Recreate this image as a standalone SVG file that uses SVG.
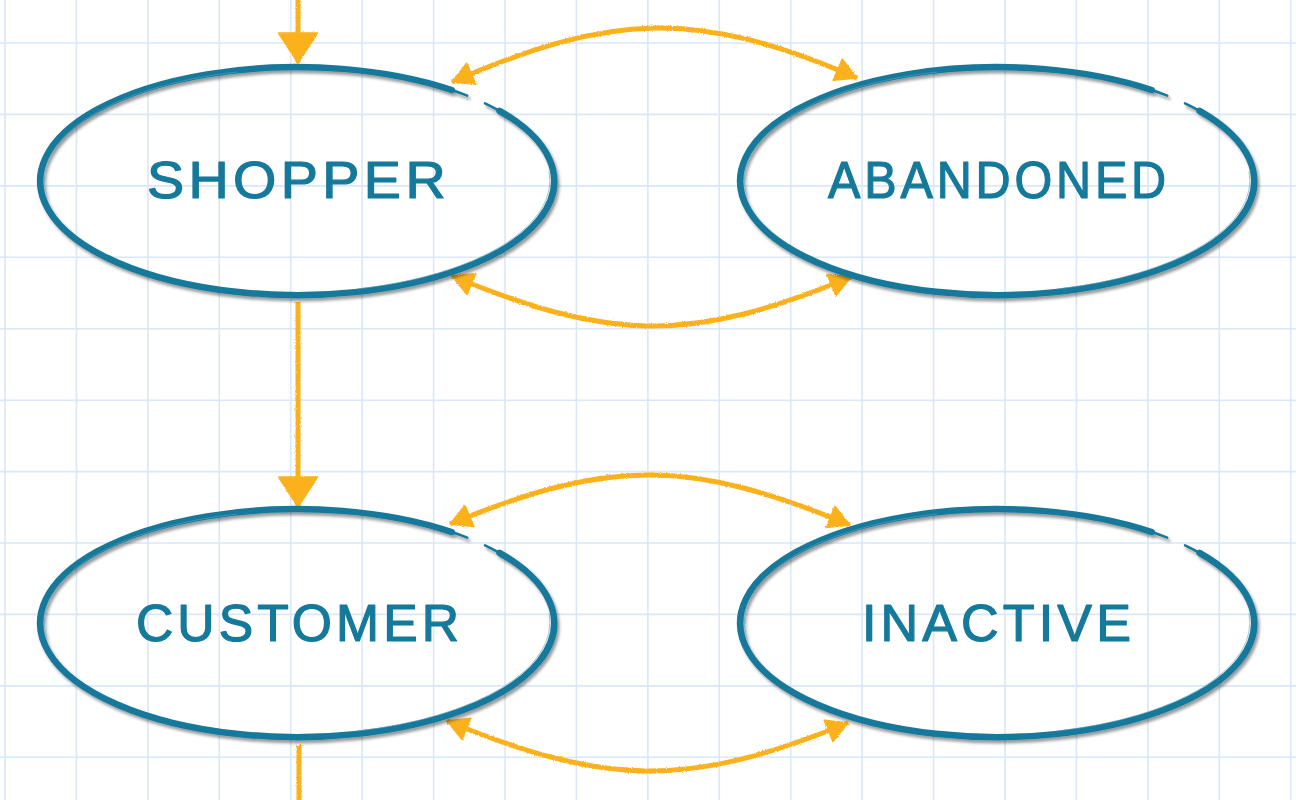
<svg xmlns="http://www.w3.org/2000/svg" width="1296" height="800" viewBox="0 0 1296 800">
  <defs>
    <style>
      .grid { stroke: #dae7f8; stroke-width: 1.6; fill: none; }
      .ring { fill: none; stroke: #15799b; stroke-width: 6.5; stroke-linecap: round; }
      .ringthin { fill: none; stroke: #15799b; stroke-width: 2.5; stroke-linecap: round; }
      .ringhi { fill: none; stroke: #5fa3bd; stroke-width: 1; opacity: 0.6; }
      .label { font-family: "Liberation Sans", Arial, sans-serif; font-size: 51px; letter-spacing: 4px; fill: #15799b; stroke: #15799b; stroke-width: 1.2; stroke-linejoin: round; text-anchor: middle; }
      .arrow { fill: none; stroke: #fbb11c; stroke-width: 5; stroke-linecap: butt; }
      .head { fill: #fbb11c; stroke: #fbb11c; stroke-width: 1.5; stroke-linejoin: round; }
    </style>
    <filter id="shadow" x="-10%" y="-10%" width="120%" height="130%">
      <feDropShadow dx="2" dy="3" stdDeviation="1.6" flood-color="#000" flood-opacity="0.4"/>
    </filter>
    <filter id="crayon" x="-5%" y="-5%" width="110%" height="110%">
      <feTurbulence type="fractalNoise" baseFrequency="0.9" numOctaves="2" seed="3" result="n"/>
      <feDisplacementMap in="SourceGraphic" in2="n" scale="2.5" xChannelSelector="R" yChannelSelector="G"/>
    </filter>
    <marker id="headS" viewBox="-24 -14 26 28" refX="0" refY="0" markerWidth="26" markerHeight="28" markerUnits="userSpaceOnUse" orient="auto-start-reverse">
      <path class="head" d="M0,0 L-21,-11.5 L-21,11.5 Z"/>
    </marker>
    <marker id="headL" viewBox="-32 -22 34 44" refX="0" refY="0" markerWidth="34" markerHeight="44" markerUnits="userSpaceOnUse" orient="auto-start-reverse">
      <path class="head" d="M0,0 L-30,-19.5 L-30,19.5 Z"/>
    </marker>
    <g id="ellipseShape">
      <path class="ring" d="M202.5,-70.2 A257,114 0 1 1 154.7,-91"/>
      <path class="ringthin" d="M188,-77.7 A257,114 0 0 1 202.5,-70.2"/>
      <path class="ringthin" d="M154.7,-91 A257,114 0 0 1 170.3,-85.4"/>
      <path class="ringhi" d="M252,-10 A255,112 0 0 1 60,108"/>
      <path class="ringhi" d="M-60,-109 A254,111 0 0 0 -250,15"/>
    </g>
  </defs>

  <rect x="0" y="0" width="1296" height="800" fill="#ffffff"/>

  <g id="grid">
    <path class="grid" d="M5,0V800 M76.4,0V800 M147.9,0V800 M219.3,0V800 M290.7,0V800 M362.1,0V800 M433.6,0V800 M505,0V800 M576.4,0V800 M647.9,0V800 M719.3,0V800 M790.7,0V800 M862.1,0V800 M933.6,0V800 M1005,0V800 M1076.4,0V800 M1147.9,0V800 M1219.3,0V800 M1290.7,0V800 M0,43H1296 M0,114.4H1296 M0,185.9H1296 M0,257.3H1296 M0,328.7H1296 M0,400.2H1296 M0,471.6H1296 M0,543H1296 M0,614.4H1296 M0,685.9H1296 M0,757.3H1296"/>
  </g>

  <g id="connectors" filter="url(#crayon)">
    <path class="arrow" d="M298,0 V63" marker-end="url(#headL)"/>
    <path class="arrow" d="M298,302 V507" marker-end="url(#headL)"/>
    <path class="arrow" d="M299,745 V800"/>
    <path class="arrow" d="M452,82 C612,12.7 697,8.7 857,78" marker-start="url(#headS)" marker-end="url(#headS)"/>
    <path class="arrow" d="M452,276 C612,342 691,343 851,277" marker-start="url(#headS)" marker-end="url(#headS)"/>
    <path class="arrow" d="M450,524 C610,458 690,459 850,525" marker-start="url(#headS)" marker-end="url(#headS)"/>
    <path class="arrow" d="M447,721 C607,786.3 688,788.3 848,723" marker-start="url(#headS)" marker-end="url(#headS)"/>
  </g>

  <g id="shopper">
    <g transform="translate(297,181)" filter="url(#shadow)"><use href="#ellipseShape"/></g>
    <text class="label" x="298.5" y="198" textLength="303" lengthAdjust="spacingAndGlyphs">SHOPPER</text>
  </g>

  <g id="abandoned">
    <g transform="translate(997,181)" filter="url(#shadow)"><use href="#ellipseShape"/></g>
    <text class="label" x="999" y="198" textLength="342" lengthAdjust="spacingAndGlyphs">ABANDONED</text>
  </g>

  <g id="customer">
    <g transform="translate(297,623)" filter="url(#shadow)"><use href="#ellipseShape"/></g>
    <text class="label" x="299.5" y="641" textLength="327" lengthAdjust="spacingAndGlyphs">CUSTOMER</text>
  </g>

  <g id="inactive">
    <g transform="translate(997,623)" filter="url(#shadow)"><use href="#ellipseShape"/></g>
    <text class="label" x="998.5" y="641" textLength="273" lengthAdjust="spacingAndGlyphs">INACTIVE</text>
  </g>
</svg>
